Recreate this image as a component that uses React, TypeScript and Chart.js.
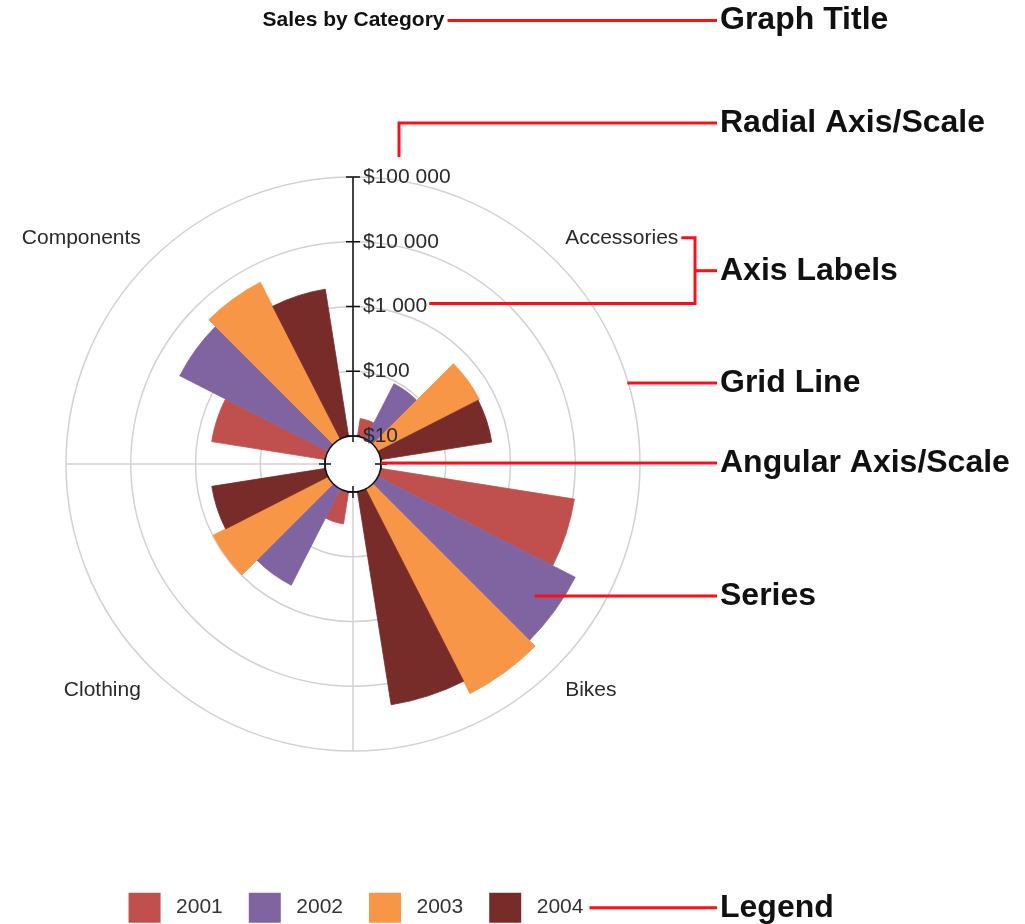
import React, { useEffect, useRef } from 'react';
import { Chart, registerables } from 'chart.js';

Chart.register(...registerables);

// ---------- data ----------
const categories = ['Accessories', 'Bikes', 'Clothing', 'Components'];
const years = ['2001', '2002', '2003', '2004'];
const sales2001 = [19, 10700, 32, 600];
const sales2002 = [91, 26300, 466, 3720];
const sales2003 = [575, 35300, 982, 5220];
const sales2004 = [546, 21500, 597, 2000];
const radialTicks = [10, 100, 1000, 10000, 100000];
const yearColors = ['#c0504d', '#8064a2', '#f79646', '#772c2a'];
const calloutTexts = ['Graph Title', 'Radial Axis/Scale', 'Axis Labels', 'Grid Line', 'Angular Axis/Scale', 'Series', 'Legend'];

// ---------- scale / layout constants ----------
const LOG_MIN = 0.5676; // radial origin (inside the centre hole, below $10)
const LOG_MAX = 5;
const BAR_ANGLE = 18;
const GAP_ANGLE = 9;
const FONT = "'Liberation Sans', Arial, sans-serif";
const GRID = '#d2d2d2';
const CALLOUT_X = 720;
const RED = '#ff1010';

const seriesByYear = [sales2001, sales2002, sales2003, sales2004];
const sliceValues: number[] = [];
const sliceAngles: number[] = [];
const sliceColors: string[] = [];
categories.forEach((_, c) => {
  sliceValues.push(LOG_MIN); sliceAngles.push(GAP_ANGLE); sliceColors.push('rgba(0,0,0,0)');
  seriesByYear.forEach((s, y) => {
    sliceValues.push(Math.log10(s[c]));
    sliceAngles.push(BAR_ANGLE);
    sliceColors.push(yearColors[y]);
  });
  sliceValues.push(LOG_MIN); sliceAngles.push(GAP_ANGLE); sliceColors.push('rgba(0,0,0,0)');
});
const SERIES_CALLOUT_INDEX = 1 * 6 + 1 + 1; // Bikes, 2002

const fmtMoney = (v: number) => '$' + String(Math.round(v)).replace(/\B(?=(\d{3})+(?!\d))/g, ' ');

const decorPlugin = {
  id: 'polarDecor',
  afterDatasetsDraw(chart: any) {
    const ctx = chart.ctx;
    const scale = chart.scales.r;
    const cx = scale.xCenter, cy = scale.yCenter;
    const holeR = scale.getDistanceFromCenterForValue(Math.log10(radialTicks[0]));
    const outerR = scale.getDistanceFromCenterForValue(LOG_MAX);
    ctx.save();
    // centre hole
    ctx.beginPath();
    ctx.arc(cx, cy, holeR, 0, Math.PI * 2);
    ctx.fillStyle = '#ffffff';
    ctx.fill();
    ctx.lineWidth = 1.5;
    ctx.strokeStyle = '#111111';
    ctx.stroke();
    // angular axis ticks (+) on the hole
    ctx.beginPath();
    for (let i = 0; i < categories.length; i++) {
      const a = scale.getPointPosition(i, holeR - 6);
      const b = scale.getPointPosition(i, holeR + 6);
      ctx.moveTo(a.x, a.y); ctx.lineTo(b.x, b.y);
      const m = scale.getPointPosition(i, holeR);
      const tx = -Math.sin(m.angle) * 6, ty = Math.cos(m.angle) * 6;
      ctx.moveTo(m.x - tx, m.y - ty); ctx.lineTo(m.x + tx, m.y + ty);
    }
    // radial axis
    ctx.moveTo(cx, cy - holeR);
    ctx.lineTo(cx, cy - outerR);
    scale.ticks.forEach((t: any) => {
      if (t.value < 1 - 1e-6) return;
      const r = scale.getDistanceFromCenterForValue(t.value);
      ctx.moveTo(cx - 7, cy - r); ctx.lineTo(cx + 7, cy - r);
    });
    ctx.stroke();
    // radial tick labels
    ctx.font = `21px ${FONT}`;
    ctx.fillStyle = '#2a2a2a';
    ctx.textAlign = 'left';
    ctx.textBaseline = 'middle';
    scale.ticks.forEach((t: any) => {
      if (!t.label) return;
      const r = scale.getDistanceFromCenterForValue(t.value);
      ctx.fillText(t.label, cx + 10, cy - r);
    });
    // category labels, centred between angle lines
    categories.forEach((name, i) => {
      const p = scale.getPointPosition(i, outerR + 13, Math.PI / categories.length);
      ctx.textAlign = p.x > cx ? 'left' : 'right';
      ctx.fillText(name, p.x, p.y + (p.y < cy ? -14 : 14));
    });
    ctx.restore();
  },
};

const calloutPlugin = {
  id: 'callouts',
  afterDraw(chart: any) {
    const ctx = chart.ctx;
    const scale = chart.scales.r;
    const cx = scale.xCenter, cy = scale.yCenter;
    const holeR = scale.getDistanceFromCenterForValue(Math.log10(radialTicks[0]));
    const outerR = scale.getDistanceFromCenterForValue(LOG_MAX);
    const lineEnd = CALLOUT_X - 3;
    const rows: number[] = [];
    ctx.save();
    ctx.strokeStyle = RED;
    ctx.lineWidth = 3;
    ctx.lineCap = 'butt';
    ctx.lineJoin = 'miter';
    const seg = (pts: number[][]) => {
      ctx.beginPath();
      ctx.moveTo(pts[0][0], pts[0][1]);
      for (let k = 1; k < pts.length; k++) ctx.lineTo(pts[k][0], pts[k][1]);
      ctx.stroke();
    };
    // Graph title
    const tb = chart.titleBlock;
    ctx.font = `bold 21px ${FONT}`;
    const titleW = ctx.measureText(chart.options.plugins.title.text).width;
    const titleY = tb.top + tb._padding.top + tb.options.font.size * 1.2 / 2;
    seg([[(tb.left + tb.right) / 2 + titleW / 2 + 3, titleY], [lineEnd, titleY]]);
    rows.push(titleY);
    // Radial axis
    const radialY = 123;
    seg([[cx + 46, cy - outerR - 20], [cx + 46, radialY], [lineEnd, radialY]]);
    rows.push(radialY);
    // Axis labels bracket
    ctx.font = `21px ${FONT}`;
    const accPos = scale.getPointPosition(0, outerR + 13, Math.PI / categories.length);
    const accY = accPos.y - 14;
    const accEnd = accPos.x + ctx.measureText(categories[0]).width + 3;
    const kTick = scale.ticks.find((t: any) => Math.abs(t.value - 3) < 1e-6);
    const kY = cy - scale.getDistanceFromCenterForValue(kTick.value) - 3;
    const kEnd = cx + 10 + ctx.measureText(kTick.label).width + 2;
    const bx = CALLOUT_X - 25;
    seg([[accEnd, accY], [bx, accY], [bx, kY], [kEnd, kY]]);
    const midY = (accY + kY) / 2;
    seg([[bx, midY], [lineEnd, midY]]);
    rows.push(midY);
    // Grid line
    const gridY = 383;
    const gx = cx + Math.sqrt(outerR * outerR - (gridY - cy) * (gridY - cy));
    seg([[gx - 1, gridY], [lineEnd, gridY]]);
    rows.push(gridY);
    // Angular axis
    seg([[cx + holeR, cy - 1], [lineEnd, cy - 1]]);
    rows.push(cy - 1);
    // Series
    const arc = chart.getDatasetMeta(0).data[SERIES_CALLOUT_INDEX];
    const mid = (arc.startAngle + arc.endAngle) / 2;
    const sx = arc.x + Math.cos(mid) * arc.outerRadius * 0.9;
    const sy = arc.y + Math.sin(mid) * arc.outerRadius * 0.9;
    seg([[sx, sy], [lineEnd, sy]]);
    rows.push(sy);
    // Legend
    const hb = chart.legend.legendHitBoxes[years.length - 1];
    const ly = hb.top + hb.height / 2;
    seg([[hb.left + hb.width + 6, ly], [lineEnd, ly]]);
    rows.push(ly);
    // callout texts
    ctx.fillStyle = '#111111';
    ctx.font = `bold 32px ${FONT}`;
    ctx.textAlign = 'left';
    ctx.textBaseline = 'middle';
    calloutTexts.forEach((t, i) => ctx.fillText(t, CALLOUT_X, rows[i]));
    ctx.restore();
  },
};

export default function App() {
  const ref = useRef<HTMLCanvasElement | null>(null);
  useEffect(() => {
    if (!ref.current) return;
    const chart = new Chart(ref.current, {
      type: 'polarArea',
      data: {
        labels: categories,
        datasets: [{
          data: sliceValues,
          backgroundColor: sliceColors,
          borderColor: sliceColors,
          borderWidth: 0.8,
          angle: (c: any) => sliceAngles[c.dataIndex],
        } as any],
      },
      options: {
        responsive: true,
        maintainAspectRatio: false,
        animation: false,
        layout: { padding: { left: 66, right: 384, top: 0, bottom: -13.7 } },
        scales: {
          r: {
            type: 'radialLinear',
            min: LOG_MIN,
            max: LOG_MAX,
            startAngle: 0,
            afterBuildTicks: (scale: any) => {
              scale.ticks = [LOG_MIN, ...radialTicks.map((v) => Math.log10(v))].map((value) => ({ value }));
            },
            ticks: {
              display: false,
              callback: (v: any) => (v < 1 - 1e-6 ? '' : fmtMoney(Math.pow(10, v))),
            },
            grid: { circular: true, color: GRID, lineWidth: 1.5 },
            angleLines: { display: true, color: GRID, lineWidth: 1.5 },
            pointLabels: { display: false },
          } as any,
        },
        plugins: {
          title: {
            display: true,
            text: 'Sales by Category',
            color: '#111111',
            font: { family: FONT, size: 21, weight: 'bold' },
            padding: { top: 8, bottom: 29 },
          },
          legend: {
            position: 'bottom',
            onClick: () => {},
            labels: {
              boxWidth: 42,
              boxHeight: 40,
              padding: 21,
              color: '#333333',
              font: { family: FONT, size: 21 },
              generateLabels: () => years.map((y, i) => ({
                text: y,
                fillStyle: yearColors[i],
                strokeStyle: '#ffffff',
                lineWidth: 10,
                fontColor: '#333333',
                hidden: false,
                index: i,
              })),
            },
          },
          tooltip: { enabled: false },
        },
      } as any,
      plugins: [decorPlugin, calloutPlugin],
    });
    return () => chart.destroy();
  }, []);
  return (
    <div style={{ position: 'absolute', left: 0, top: 0, width: 1025, height: 924, background: '#ffffff' }}>
      <canvas ref={ref} />
    </div>
  );
}
